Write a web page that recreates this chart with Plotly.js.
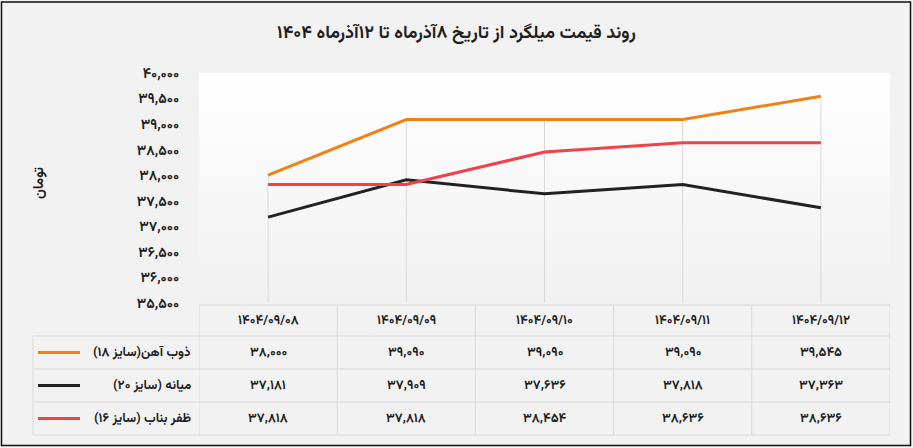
<!DOCTYPE html>
<html>
<head>
<meta charset="utf-8">
<script src="https://cdn.plot.ly/plotly-3.0.1.min.js"></script>
<style>
  html, body { margin: 0; padding: 0; background: #f2f2f2; }
  #chart { width: 913px; height: 448px; }
</style>
</head>
<body>
<div id="chart"></div>
<script>
// rebar prices, 8 to 12 Azar 1404
const dates = ['1404/09/08', '1404/09/09', '1404/09/10', '1404/09/11', '1404/09/12'];
const seriesNames = ['ذوب آهن(سایز ۱۸)', 'میانه (سایز ۲۰)', 'ظفر بناب (سایز ۱۶)'];
const zobAhan = [38000, 39090, 39090, 39090, 39545];
const mianeh = [37181, 37909, 37636, 37818, 37363];
const zafarBonab = [37818, 37818, 38454, 38636, 38636];
const seriesColors = ['#ee8214', '#222222', '#f0424a'];
const yTicks = [35500, 36000, 36500, 37000, 37500, 38000, 38500, 39000, 39500, 40000];

const chartTitle = 'روند قیمت میلگرد از تاریخ ۸آذرماه تا ۱۲آذرماه ۱۴۰۴';
const yTitle = 'تومان';

// helpers
const fa = s => String(s).replace(/\d/g, d => '۰۱۲۳۴۵۶۷۸۹'[d]);
const fmt = n => fa(n.toLocaleString('en-US'));
const rtl = s => '\u202B' + s + '\u202C';

// pixel -> paper, plot box is 199..890 x 73..435
const ML = 199, MR = 23, MT = 73, MB = 13, W = 913, H = 448;
const PW = W - ML - MR, PH = H - MT - MB;
const X = px => (px - ML) / PW;
const Y = py => (H - MB - py) / PH;

const allSeries = [zobAhan, mianeh, zafarBonab];
const font = 'Vazirmatn, "DejaVu Sans", sans-serif';
const gridCol = '#d9d9d9';
const txt = '#1f1f1f';

const data = allSeries.map((vals, i) => ({
  x: dates.map(fa),
  y: vals,
  type: 'scatter',
  mode: 'lines',
  line: { color: seriesColors[i], width: 3 },
  hoverinfo: 'skip',
  showlegend: false,
}));

const shapes = [];
const annotations = [];

// drop lines from highest point to axis
dates.forEach((d, k) => {
  const top = Math.max(...allSeries.map(s => s[k]));
  shapes.push({
    type: 'line', xref: 'x', yref: 'y', x0: k, x1: k, y0: yTicks[0], y1: top,
    line: { color: gridCol, width: 1 }, layer: 'below',
  });
});

// data table under the plot
const rowLines = [305, 336, 369, 402, 435];
const rowMid = [320.5, 352.5, 385.5, 418.5];
rowLines.forEach((py, r) => {
  shapes.push({
    type: 'line', xref: 'paper', yref: 'paper',
    x0: r === 0 ? X(199) : X(33), x1: X(890), y0: Y(py), y1: Y(py),
    line: { color: gridCol, width: 1 },
  });
});
for (let k = 0; k <= dates.length; k++) {
  shapes.push({
    type: 'line', xref: 'x', yref: 'paper', x0: k - 0.5, x1: k - 0.5,
    y0: Y(305), y1: Y(435), line: { color: gridCol, width: 1 },
  });
}
shapes.push({
  type: 'line', xref: 'paper', yref: 'paper', x0: X(33), x1: X(33),
  y0: Y(336), y1: Y(435), line: { color: gridCol, width: 1 },
});

const cellFont = { family: font, size: 13, color: txt, weight: 'bold' };
dates.forEach((d, k) => {
  annotations.push({
    xref: 'x', yref: 'paper', x: k, y: Y(rowMid[0]), xanchor: 'center', yanchor: 'middle',
    text: fa(d), showarrow: false, font: cellFont,
  });
});
allSeries.forEach((vals, i) => {
  const yy = Y(rowMid[i + 1]);
  vals.forEach((v, k) => {
    annotations.push({
      xref: 'x', yref: 'paper', x: k, y: yy, xanchor: 'center', yanchor: 'middle',
      text: fmt(v), showarrow: false, font: cellFont,
    });
  });
  annotations.push({
    xref: 'paper', yref: 'paper', x: X(193), y: yy, xanchor: 'right', yanchor: 'middle',
    text: rtl(seriesNames[i]), showarrow: false, font: cellFont,
  });
  shapes.push({
    type: 'line', xref: 'paper', yref: 'paper', x0: X(38), x1: X(80), y0: yy, y1: yy,
    line: { color: seriesColors[i], width: 3 },
  });
});

// y axis title
annotations.push({
  xref: 'paper', yref: 'paper', x: X(40), y: Y(183), xanchor: 'center', yanchor: 'middle',
  textangle: -90, text: rtl(yTitle), showarrow: false,
  font: { family: font, size: 14, color: txt, weight: 'bold' },
});

// outer frame
shapes.push({
  type: 'rect', xref: 'paper', yref: 'paper',
  x0: X(1.5), x1: X(910.5), y0: Y(445.5), y1: Y(2),
  line: { color: '#111', width: 1.5 },
});

// soft white-to-grey plot fill
const grad = 'data:image/svg+xml;utf8,' + encodeURIComponent(
  '<svg xmlns="http://www.w3.org/2000/svg" width="10" height="100" preserveAspectRatio="none">' +
  '<defs><linearGradient id="g" x1="0" y1="0" x2="0" y2="1">' +
  '<stop offset="0" stop-color="#ffffff"/><stop offset="1" stop-color="#f1f1f1"/>' +
  '</linearGradient></defs><rect width="10" height="100" fill="url(#g)"/></svg>');

const layout = {
  width: W, height: H,
  margin: { l: ML, r: MR, t: MT, b: MB },
  paper_bgcolor: '#f2f2f2',
  plot_bgcolor: 'rgba(0,0,0,0)',
  title: {
    text: rtl(chartTitle), x: 0.5, xref: 'container', xanchor: 'center',
    y: 1 - 32 / H, yref: 'container', yanchor: 'middle',
    font: { family: font, size: 18, color: txt, weight: 'bold' },
  },
  xaxis: {
    type: 'category', range: [-0.5, dates.length - 0.5],
    showticklabels: false, showgrid: false, zeroline: false, showline: false, ticks: '',
  },
  yaxis: {
    domain: [Y(303), 1], range: [yTicks[0], yTicks[yTicks.length - 1]],
    tickvals: yTicks, ticktext: yTicks.map(fmt),
    ticks: 'outside', ticklen: 16, tickcolor: 'rgba(0,0,0,0)',
    tickfont: { family: font, size: 14, color: txt, weight: 'bold' },
    showgrid: false, zeroline: false, showline: false,
  },
  images: [{
    source: grad, xref: 'paper', yref: 'paper', x: 0, y: 1,
    sizex: 1, sizey: 1 - Y(303), sizing: 'stretch', layer: 'below',
    xanchor: 'left', yanchor: 'top',
  }],
  shapes: shapes,
  annotations: annotations,
  showlegend: false,
  hovermode: false,
};

Plotly.newPlot('chart', data, layout, { staticPlot: true, displayModeBar: false });
</script>
</body>
</html>
